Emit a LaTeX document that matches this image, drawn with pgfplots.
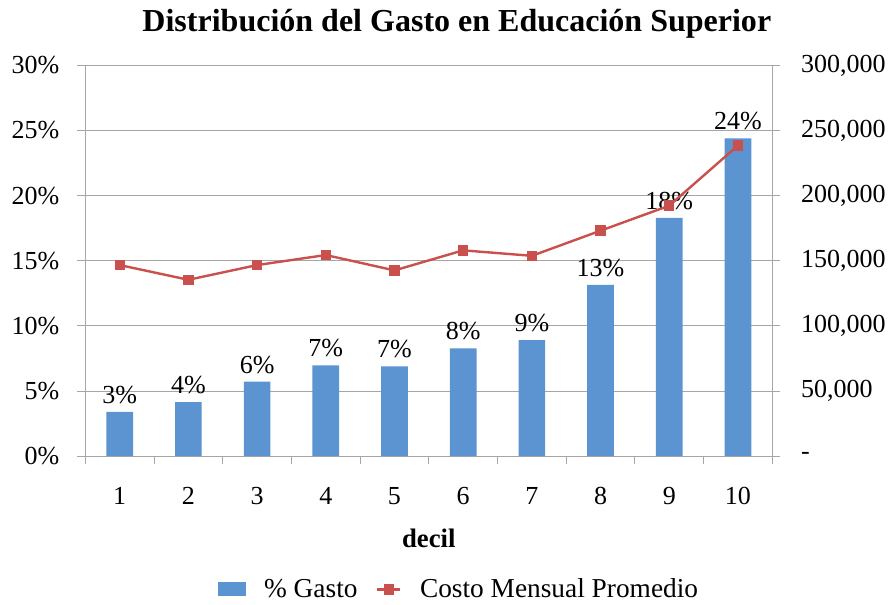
\documentclass[border=0pt]{standalone}
\usepackage{pgfplots}
\pgfplotsset{compat=1.18}
\usepackage{fontspec}
\setmainfont{Liberation Serif}
\definecolor{barblue}{HTML}{5B94D0}
\definecolor{linered}{HTML}{C9504D}
\definecolor{gridgray}{HTML}{A6A6A6}
\begin{document}
\begin{tikzpicture}
\path[use as bounding box] (-64pt,-111pt) rectangle (607pt,342pt);
\begin{axis}[
  scale only axis, width=515pt, height=293pt,
  xmin=0.5, xmax=10.5, ymin=0, ymax=30,
  axis x line*=bottom, axis y line*=left,
  axis line style={gridgray, line width=0.8pt},
  xtick={1,...,10}, minor xtick={0.5,1.5,...,10.5},
  major x tick style={draw=none},
  minor x tick style={gridgray, line width=0.8pt},
  minor tick length=6pt, xtick align=outside,
  ytick={0,5,...,30}, ytick align=outside, major tick length=6pt,
  major y tick style={gridgray, line width=0.8pt},
  ymajorgrids, grid style={gridgray, line width=0.8pt},
  yticklabel={\pgfmathprintnumber{\tick}\%},
  /pgf/number format/assume math mode=true,
  tick label style={font=\fontsize{19.5}{22}\selectfont, black},
  xticklabel style={anchor=center, yshift=-24pt},
  yticklabel style={anchor=east, xshift=-10pt},
  xlabel={\textbf{decil}},
  xlabel style={font=\fontsize{20}{22}\selectfont, at={(axis description cs:0.5,-0.21)}, anchor=center},
  title={\textbf{Distribución del Gasto en Educación Superior}},
  title style={font=\fontsize{24}{27}\selectfont, at={(axis description cs:0.5,1)}, anchor=center, yshift=25pt, xshift=21pt},
  nodes near coords={\pgfmathprintnumber[fixed,precision=0]{\pgfplotspointmeta}\%},
  nodes near coords style={font=\fontsize{19.5}{22}\selectfont, black, inner sep=1pt, yshift=5pt},
  clip=false,
]
\addplot[ybar, bar width=20pt, fill=barblue, draw=none] coordinates {
 (1,3.41) (2,4.15) (3,5.72) (4,6.97) (5,6.90) (6,8.28) (7,8.90) (8,13.15) (9,18.3) (10,24.4)};
\end{axis}
\begin{axis}[
  scale only axis, width=515pt, height=293pt,
  xmin=0.5, xmax=10.5, ymin=0, ymax=300000,
  axis x line=none, axis y line*=right,
  axis line style={gridgray, line width=0.8pt},
  scaled y ticks=false,
  ytick={0,50000,...,300000}, ytick align=outside, major tick length=6pt,
  major y tick style={gridgray, line width=0.8pt},
  yticklabels={{-},{50,000},{100,000},{150,000},{200,000},{250,000},{300,000}},
  yticklabel style={font=\fontsize{19.5}{22}\selectfont, black, anchor=west, xshift=12pt},
  legend style={at={(0.5,-0.341)}, anchor=center, xshift=23pt, draw=none, legend columns=2,
    font=\fontsize{20.5}{22}\selectfont, column sep=12pt, inner sep=0pt},
  legend cell align=left,
]
\addlegendimage{legend image code/.code={\fill[barblue] (0pt,-4.5pt) rectangle (20pt,5.5pt);}}
\addlegendentry{\% Gasto}
\addplot[linered, line width=1.8pt, mark=square*, mark size=3pt, mark options={fill=linered}] coordinates {
 (1,146700) (2,135400) (3,146700) (4,154400) (5,142600) (6,158000) (7,153800) (8,173100) (9,192300) (10,238500)};
\addlegendentry{Costo Mensual Promedio}
\end{axis}
\end{tikzpicture}
\end{document}
